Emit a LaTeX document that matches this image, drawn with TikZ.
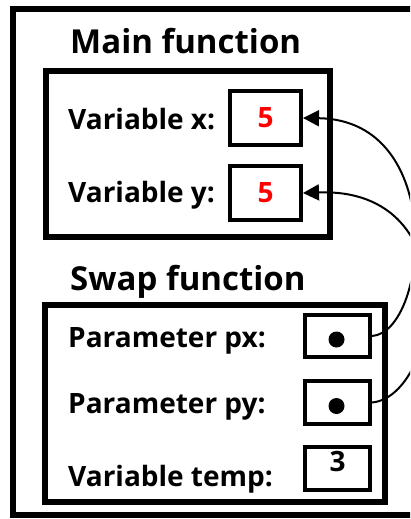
\documentclass[tikz,border=0pt]{standalone}
\usepackage{fontspec}
\setmainfont{Open Sans}
\usetikzlibrary{arrows.meta, positioning}

\tikzset{
  frame/.style={draw, line width=6.5pt, inner sep=0pt},
  cell/.style={draw, line width=4pt, inner sep=0pt, font=\bfseries\fontsize{28}{28}\selectfont},
  lbl/.style={anchor=base west, inner sep=0pt, font=\bfseries\fontsize{28}{28}\selectfont},
  ttl/.style={anchor=base west, inner sep=0pt, font=\bfseries\fontsize{33}{33}\selectfont},
  ptr/.style={line width=2pt, -{Triangle[length=16pt,width=16pt]}}
}

\begin{document}
\begin{tikzpicture}[x=1pt, y=-1pt]
      \useasboundingbox (0,0) rectangle (410,519);
      \clip (0,0) rectangle (410,519);
      \draw[line width=6.5pt] (13,9) rectangle (440,515);

      % main function
      \node[ttl] (maintitle) at (70,54) {Main function};
      \node[frame, minimum width=284pt, minimum height=166pt] (mainbox) at (188,154) {};
      \node[lbl] (xlbl) at (68,129) {Variable x:};
      \node[lbl] (ylbl) at (68,202) {Variable y:};
      \node[cell, red, draw=black, minimum width=71pt, minimum height=54pt] (x) at (265.5,118) {5};
      \node[cell, red, draw=black, minimum width=71pt, minimum height=54pt] (y) at (265.5,193) {5};

      % swap function
      \node[ttl] (swaptitle) at (70,290) {Swap function};
      \node[frame, minimum width=340pt, minimum height=197pt] (swapbox) at (215,403.5) {};
      \node[lbl] (pxlbl) at (68,347) {Parameter px:};
      \node[lbl] (pylbl) at (68,413) {Parameter py:};
      \node[lbl] (templbl) at (68,486) {Variable temp:};
      \node[cell, minimum width=65pt, minimum height=42pt] (px) at (337.5,336) {};
      \node[cell, minimum width=65pt, minimum height=43pt] (py) at (337.5,402.5) {};
      \node[cell, minimum width=65pt, minimum height=43pt, text height=20pt, text depth=15pt] (temp) at (337.5,468.5) {3};
      \fill ([xshift=-1pt, yshift=-3.5pt]px.center) circle[radius=8pt];
      \fill ([xshift=-1pt, yshift=-3.5pt]py.center) circle[radius=8pt];

      \draw[ptr] (px.east) .. controls (428,332) and (448,120) .. (x.east);
      \draw[ptr] (py.east) .. controls (440,396) and (470,187) .. (y.east);
\end{tikzpicture}
\end{document}
